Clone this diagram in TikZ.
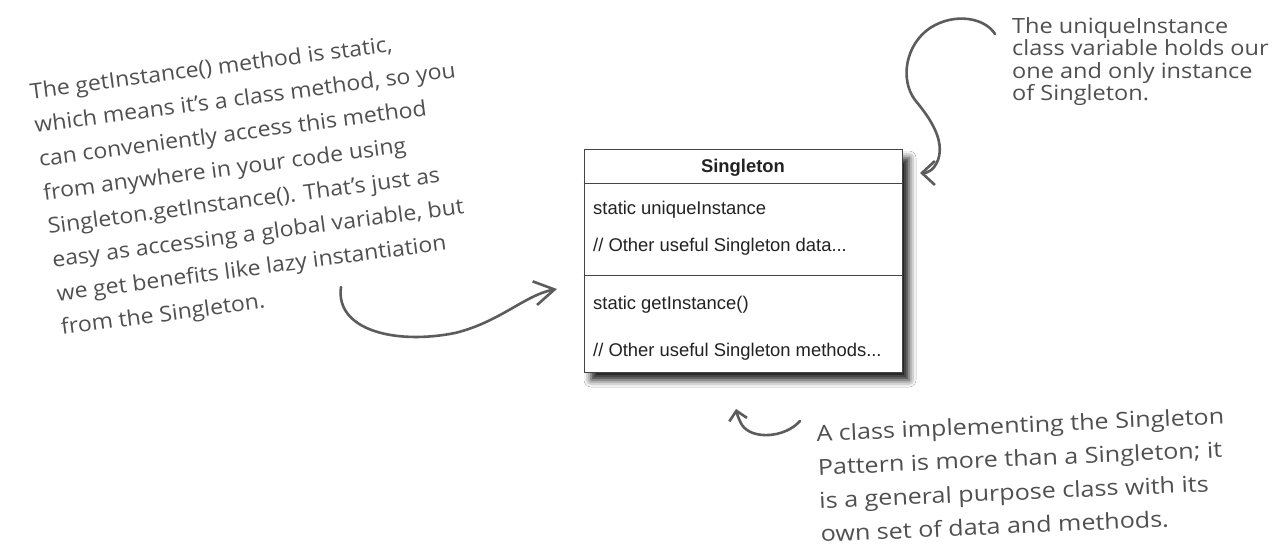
\documentclass[tikz,border=0pt]{standalone}
\usepackage{fontspec}
\setmainfont{Liberation Sans}
\newfontfamily\handfontL[FakeStretch=1.07]{Open Sans}
\newfontfamily\handfontR[FakeStretch=1.12]{Open Sans}
\newfontfamily\handfontB[FakeStretch=1.14]{Open Sans}
\usetikzlibrary{arrows.meta,shadows.blur}
\definecolor{ink}{HTML}{505050}
\definecolor{pen}{HTML}{5C5C5C}
\definecolor{umltext}{HTML}{222222}
\definecolor{umlline}{HTML}{444444}
\begin{document}
\begin{tikzpicture}[x=1pt,y=-1pt,
  note/.style={text=ink, align=left, inner sep=0pt, anchor=base west},
  umlbox/.style={draw=umlline, line width=1pt, fill=white,
    minimum width=318pt, minimum height=222pt, inner sep=0pt,
    blur shadow={shadow xshift=7pt, shadow yshift=-8pt,
      shadow blur radius=7pt, shadow opacity=90}},
  member/.style={text=umltext, font=\fontsize{18.4}{22}\selectfont,
    inner sep=0pt, anchor=base west},
  sep/.style={draw=umlline, line width=1pt},
  hand/.style={draw=pen, line width=2.6pt, line cap=round, line join=round},
]
\useasboundingbox[fill=white] (0,0) rectangle (1275,548);

% the class box
\node[umlbox] (cls) at (743,261) {};
\node[member, anchor=base, font=\bfseries\fontsize{18.4}{22}\selectfont]
  (title) at (743,173) {Singleton};
\draw[sep] ([yshift=-34pt]cls.north west) -- ([yshift=-34pt]cls.north east);
\node[member] (attrA) at (593,215) {static uniqueInstance};
\node[member] (attrB) at (593,252) {// Other useful Singleton data...};
\draw[sep] ([yshift=-126pt]cls.north west) -- ([yshift=-126pt]cls.north east);
\node[member] (opA) at (593,309) {static getInstance()};
\node[member] (opB) at (593,356) {// Other useful Singleton methods...};

% handwritten notes (each placed by the baseline of its last line)
\node[note, rotate=7.5, font=\handfontL\fontsize{21.5}{34}\selectfont]
  (noteL) at (62,335) {The getInstance() method is static,\\
which means it’s a class method, so you\\
can conveniently access this method\\
from anywhere in your code using\\
Singleton.getInstance(). That’s just as\\
easy as accessing a global variable, but\\
we get benefits like lazy instantiation\\
from the Singleton.};

\node[note, font=\handfontR\fontsize{21}{22.5}\selectfont] (noteR) at (1012,101)
  {The uniqueInstance\\
class variable holds our\\
one and only instance\\
of Singleton.};

\node[note, rotate=2.5, font=\handfontB\fontsize{22}{33.5}\selectfont]
  (noteB) at (821,542)
  {A class implementing the Singleton\\
Pattern is more than a Singleton; it\\
is a general purpose class with its\\
own set of data and methods.};

% hand-drawn arrows
\coordinate (lS) at (341,287);
\coordinate (lE) at (557,289);
\draw[hand, -{Straight Barb[length=20pt, width=24pt]}]
  (lS) .. controls (335,330) and (395,345) .. (455,333)
       .. controls (500,322) and (525,295) .. (lE);

\coordinate (rS) at (995,34);
\coordinate (rE) at (920,173);
\draw[hand, -{Straight Barb[length=13pt, width=24pt]}]
  (rS) .. controls (985,18) and (955,12) .. (930,28)
       .. controls (905,45) and (900,80) .. (915,100)
       .. controls (930,118) and (945,140) .. (938,160)
       .. controls (934,170) and (928,173) .. (rE);

\coordinate (bS) at (800,421);
\coordinate (bE) at (736,409);
\draw[hand, -{Straight Barb[length=9pt, width=18pt]}]
  (bS) .. controls (785,438) and (752,440) .. (742,425)
       .. controls (739,420) and (737,414) .. (bE);
\end{tikzpicture}
\end{document}
